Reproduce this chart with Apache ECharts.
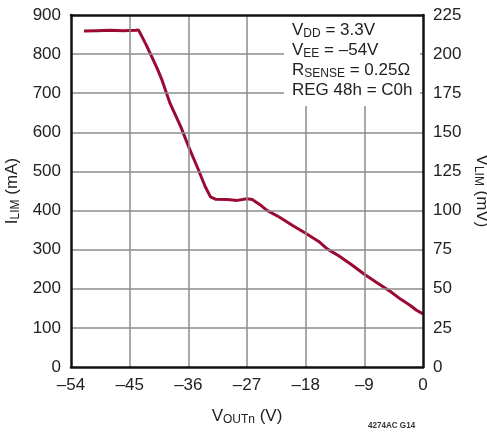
<!DOCTYPE html>
<html><head><meta charset="utf-8">
<script src="https://cdn.jsdelivr.net/npm/echarts@6/dist/echarts.min.js"></script>
<style>html,body{margin:0;padding:0;background:#fff}#c{width:487px;height:434px}</style>
</head><body><div id="c"></div>
<script>
const vout = [-52, -50, -48, -46, -44, -43.65, -42.5, -41.6, -40.8, -40.05, -38.8, -37.15, -35.95, -34.65, -33.4, -32.6, -31.85, -30, -28.5, -27, -26.2, -25, -24, -22, -20, -18, -16, -14.7, -13, -11, -9, -7, -5, -3.4, -2, -1, 0];
const ilim = [859, 860, 861, 860, 861, 862, 825, 793, 764, 734, 674, 614, 563, 512, 461, 435, 429, 428, 426, 430, 428, 415, 401, 383, 362, 342, 321, 302, 285, 262, 237, 215, 193, 173, 158, 145, 136];
const xTicks = {min: -54, max: 0, interval: 9};
const leftTicks = {min: 0, max: 900, interval: 100};
const rightTicks = {min: 0, max: 225, interval: 25};
const notes = ['V{s|DD} = 3.3V', 'V{s|EE} = \u201354V', 'R{s|SENSE} = 0.25\u03A9', 'REG 48h = C0h'];

const FONT = 'Liberation Sans';
const subStyle = {fontSize: 12, fontFamily: FONT, color: '#222', padding: [7, 0, 0, 0]};
const chart = echarts.init(document.getElementById('c'));
const lbl = {fontFamily: FONT, fontSize: 17, color: '#222'};
const border = {show: true, onZero: false, lineStyle: {color: '#111', width: 2.5}};
const split = {show: true, showMinLine: false, showMaxLine: false, lineStyle: {color: '#8c8c8c', width: 1.5}};
chart.setOption({
  animation: false,
  grid: {left: 71, right: 64, top: 15, bottom: 67, outerBoundsMode: 'none', containLabel: false},
  xAxis: [{
    type: 'value', min: xTicks.min, max: xTicks.max, interval: xTicks.interval, z: 5,
    axisLine: border, axisTick: {show: false},
    axisLabel: Object.assign({margin: 10, formatter: v => v < 0 ? '\u2013' + (-v) : '' + v}, lbl),
    splitLine: split,
    name: 'V{s|OUTn} (V)', nameLocation: 'middle', nameGap: 40,
    nameTextStyle: Object.assign({rich: {s: subStyle}}, lbl)
  }, {
    type: 'value', position: 'top', min: xTicks.min, max: xTicks.max, interval: xTicks.interval, z: 5,
    axisLine: border, axisTick: {show: false}, axisLabel: {show: false}, splitLine: {show: false}
  }],
  yAxis: [{
    type: 'value', min: leftTicks.min, max: leftTicks.max, interval: leftTicks.interval, z: 5,
    axisLine: border, axisTick: {show: false},
    axisLabel: Object.assign({margin: 10}, lbl),
    splitLine: split,
    name: 'I{s|LIM} (mA)', nameLocation: 'middle', nameGap: 44, nameRotate: 90,
    nameTextStyle: Object.assign({rich: {s: subStyle}}, lbl)
  }, {
    type: 'value', position: 'right', min: rightTicks.min, max: rightTicks.max, interval: rightTicks.interval, z: 5,
    axisLine: border, axisTick: {show: false},
    axisLabel: Object.assign({margin: 10}, lbl),
    splitLine: {show: false},
    name: 'V{s|LIM} (mV)', nameLocation: 'middle', nameGap: 38, nameRotate: -90,
    nameTextStyle: Object.assign({rich: {s: subStyle}}, lbl)
  }],
  graphic: [
    {type: 'rect', z: 50, shape: {x: 284, y: 17, width: 136, height: 89}, style: {fill: '#fff'}},
    {type: 'text', z: 51, left: 292, top: 20,
     style: {text: notes.join('\n'), fontFamily: FONT, fontSize: 17, fill: '#222', lineHeight: 20,
             rich: {s: {fontSize: 12, fontFamily: FONT, fill: '#222', padding: [7, 0, 0, 0]}}}},
    {type: 'text', x: 368, y: 420, scaleX: 0.85, style: {text: '4274AC G14', fontFamily: FONT, fontSize: 9.5, fontWeight: 'bold', fill: '#333'}}
  ],
  series: [{
    type: 'line', xAxisIndex: 0, yAxisIndex: 0, showSymbol: false, z: 3,
    data: vout.map((v, i) => [v, ilim[i]]),
    lineStyle: {color: '#9b0a32', width: 3}
  }]
});
</script></body></html>
